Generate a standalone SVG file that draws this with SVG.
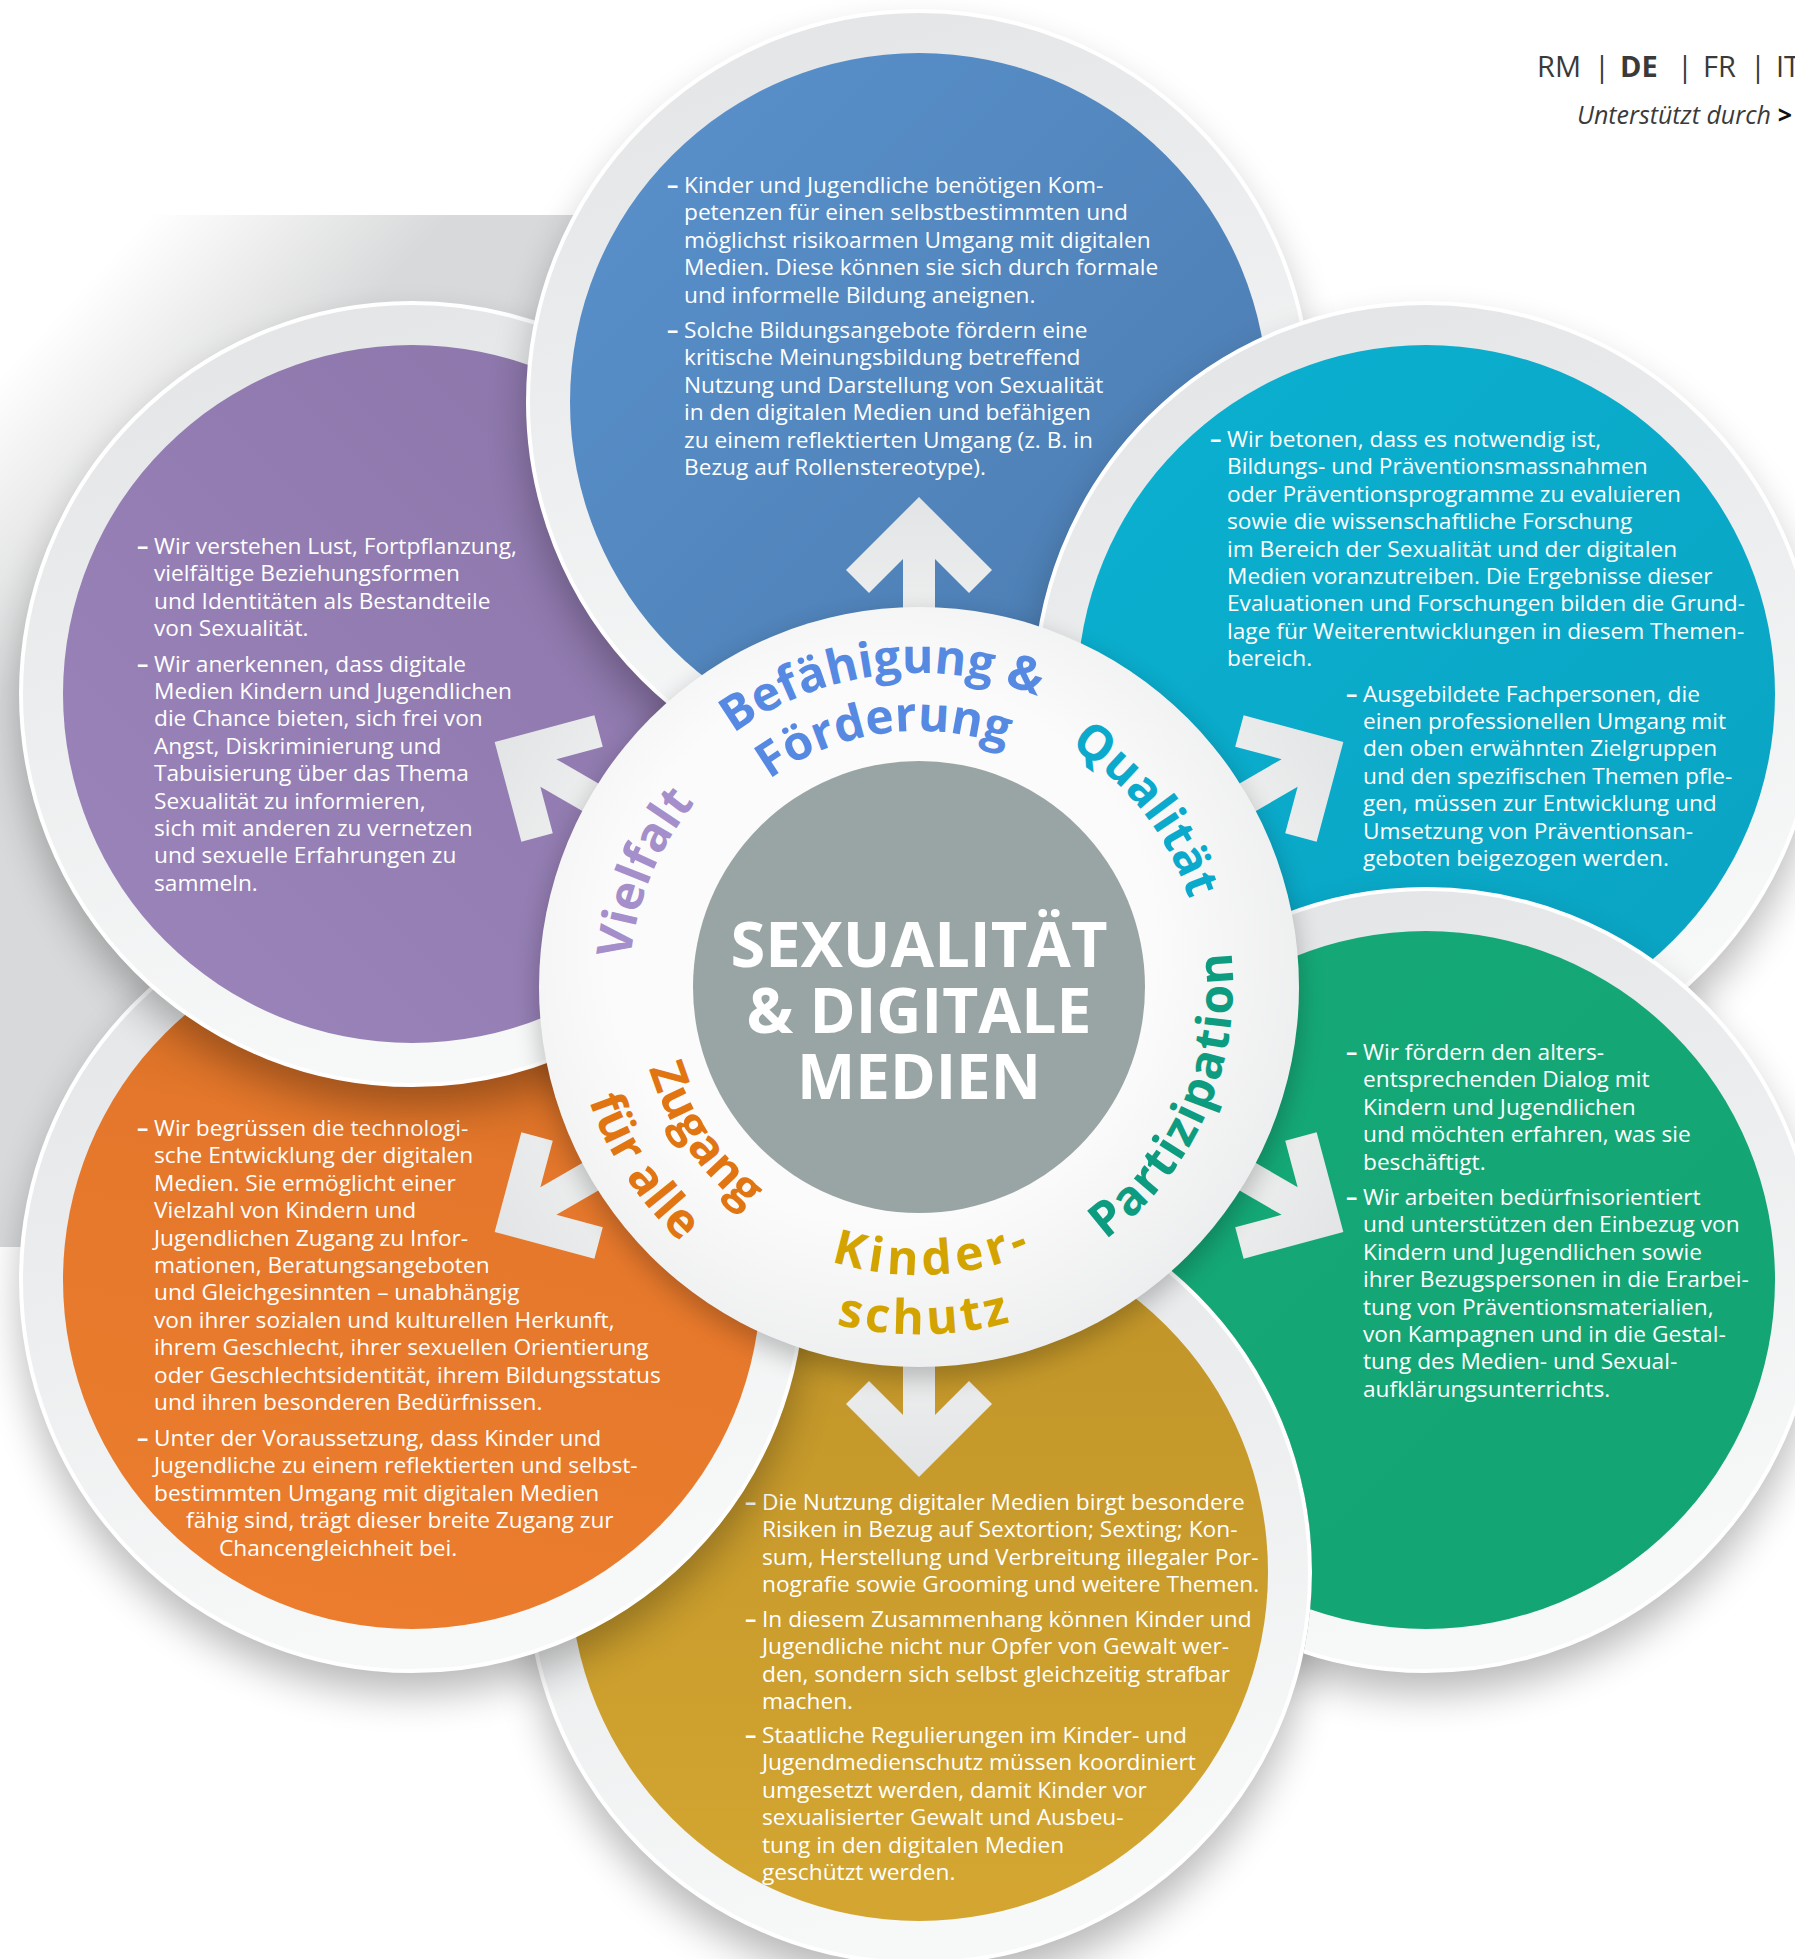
<svg xmlns="http://www.w3.org/2000/svg" width="1795" height="1959" viewBox="0 0 1795 1959">
<defs>
<style>
.body{font-family:"Open Sans","Liberation Sans",sans-serif;font-size:22.7px;fill:#ffffff;}
.dash{font-family:"Open Sans","Liberation Sans",sans-serif;font-size:22.7px;font-weight:700;fill:#ffffff;}
.lbl{font-family:"Open Sans","Liberation Sans",sans-serif;font-size:48px;font-weight:700;}
.title{font-family:"Open Sans","Liberation Sans",sans-serif;font-size:62px;font-weight:700;fill:#ffffff;}
.hdr{font-family:"Open Sans","Liberation Sans",sans-serif;fill:#3a3a3a;}
.band{fill:url(#gBand);stroke:#ffffff;stroke-width:4;}
.shadow{fill:#000;opacity:0.28;filter:url(#fBlur);}
.arrow{fill:url(#gArrow);}
</style>
<filter id="fBlur" x="-30%" y="-30%" width="160%" height="160%"><feGaussianBlur stdDeviation="20"/></filter>
<filter id="fBlurS" x="-30%" y="-30%" width="160%" height="160%"><feGaussianBlur stdDeviation="12"/></filter>
<clipPath id="cNoGold"><path clip-rule="evenodd" d="M0 0H1795V1959H0Z M 526 1572 A 393 393 0 1 0 1312 1572 A 393 393 0 1 0 526 1572 Z"/></clipPath>
<linearGradient id="gBg" gradientUnits="userSpaceOnUse" x1="80" y1="290" x2="240" y2="440"><stop offset="0" stop-color="#ffffff"/><stop offset="1" stop-color="#d8d9da"/></linearGradient>
<linearGradient id="gBand" x1="0" y1="0" x2="0.3" y2="1"><stop offset="0" stop-color="#e2e3e5"/><stop offset="1" stop-color="#f7f8f8"/></linearGradient>
<linearGradient id="gArrow" x1="0" y1="0" x2="0" y2="1"><stop offset="0" stop-color="#e3e4e5"/><stop offset="1" stop-color="#f1f2f2"/></linearGradient>
<radialGradient id="gRing" cx="0.45" cy="0.45" r="0.6"><stop offset="0.6" stop-color="#fbfbfb"/><stop offset="1" stop-color="#ebeced"/></radialGradient>
<linearGradient id="gPurple" x1="1" y1="0" x2="0" y2="1"><stop offset="0" stop-color="#8a74a8"/><stop offset="1" stop-color="#9c85bb"/></linearGradient>
<linearGradient id="gBlue" x1="0" y1="0" x2="1" y2="1"><stop offset="0" stop-color="#5a92cd"/><stop offset="1" stop-color="#4a7aae"/></linearGradient>
<linearGradient id="gCyan" x1="0" y1="0" x2="1" y2="1"><stop offset="0" stop-color="#0bb0d0"/><stop offset="1" stop-color="#0aa3c2"/></linearGradient>
<linearGradient id="gGreen" x1="0" y1="0" x2="1" y2="1"><stop offset="0" stop-color="#16a978"/><stop offset="1" stop-color="#12a472"/></linearGradient>
<linearGradient id="gGold" x1="0" y1="0" x2="0" y2="1"><stop offset="0" stop-color="#bf9328"/><stop offset="1" stop-color="#d4a631"/></linearGradient>
<linearGradient id="gOrange" x1="0.5" y1="0" x2="0.3" y2="1"><stop offset="0" stop-color="#c2641f"/><stop offset="0.3" stop-color="#e4772b"/><stop offset="1" stop-color="#ec7d2e"/></linearGradient>
<path id="pBef" d="M 605.43 970.57 A 314 314 0 0 1 1219.28 895.20"/>
<path id="pFoe" d="M 663.16 978.07 A 256 256 0 0 1 1162.47 907.89"/>
<path id="pQua" d="M 785.67 736.24 A 284 284 0 0 1 1130.05 1177.03"/>
<path id="pVie" d="M 763.18 1231.58 A 290 290 0 0 1 981.77 703.87"/>
<path id="pPar" d="M 845.70 1292.32 A 314 314 0 0 0 1092.31 725.16"/>
<path id="pKin" d="M 638.38 1051.79 A 288 288 0 0 0 1204.85 1022.10"/>
<path id="pSch" d="M 579.10 1054.13 A 346 346 0 0 0 1260.75 1041.13"/>
<path id="pZug" d="M 721.34 785.86 A 282 282 0 0 0 1035.94 1243.61"/>
<path id="pFue" d="M 680.98 731.76 A 349 349 0 0 0 1055.37 1308.26"/>
</defs>

<rect width="1795" height="1959" fill="#ffffff"/>
<rect id="bg-panel" x="0" y="215" width="900" height="1032" fill="url(#gBg)"/>

<g id="node-kinderschutz">
<circle class="shadow" cx="919" cy="1596" r="391"/>
<circle class="band" cx="919" cy="1572" r="391"/>
<circle cx="919" cy="1572" r="349" fill="url(#gGold)"/>
<text class="dash" x="745" y="1510">–</text>
<text class="body" x="762" y="1510">Die Nutzung digitaler Medien birgt besondere</text>
<text class="body" x="762" y="1537.4">Risiken in Bezug auf Sextortion; Sexting; Kon-</text>
<text class="body" x="762" y="1564.8">sum, Herstellung und Verbreitung illegaler Por-</text>
<text class="body" x="762" y="1592.2">nografie sowie Grooming und weitere Themen.</text>
<text class="dash" x="745" y="1627">–</text>
<text class="body" x="762" y="1627">In diesem Zusammenhang können Kinder und</text>
<text class="body" x="762" y="1654.4">Jugendliche nicht nur Opfer von Gewalt wer-</text>
<text class="body" x="762" y="1681.8">den, sondern sich selbst gleichzeitig strafbar</text>
<text class="body" x="762" y="1709.2">machen.</text>
<text class="dash" x="745" y="1743">–</text>
<text class="body" x="762" y="1743">Staatliche Regulierungen im Kinder- und</text>
<text class="body" x="762" y="1770.4">Jugendmedienschutz müssen koordiniert</text>
<text class="body" x="762" y="1797.8">umgesetzt werden, damit Kinder vor</text>
<text class="body" x="762" y="1825.2">sexualisierter Gewalt und Ausbeu-</text>
<text class="body" x="762" y="1852.6">tung in den digitalen Medien</text>
<text class="body" x="762" y="1880">geschützt werden.</text>
</g>

<g id="node-zugang">
<circle class="shadow" cx="412" cy="1302" r="391"/>
<circle class="band" cx="412" cy="1280" r="391"/>
<circle cx="412" cy="1280" r="349" fill="url(#gOrange)"/>
<text class="dash" x="137" y="1136">–</text>
<text class="body" x="154" y="1136">Wir begrüssen die technologi-</text>
<text class="body" x="154" y="1163.4">sche Entwicklung der digitalen</text>
<text class="body" x="154" y="1190.8">Medien. Sie ermöglicht einer</text>
<text class="body" x="154" y="1218.2">Vielzahl von Kindern und</text>
<text class="body" x="154" y="1245.6">Jugendlichen Zugang zu Infor-</text>
<text class="body" x="154" y="1273">mationen, Beratungsangeboten</text>
<text class="body" x="154" y="1300.4">und Gleichgesinnten – unabhängig</text>
<text class="body" x="154" y="1327.8">von ihrer sozialen und kulturellen Herkunft,</text>
<text class="body" x="154" y="1355.2">ihrem Geschlecht, ihrer sexuellen Orientierung</text>
<text class="body" x="154" y="1382.6">oder Geschlechtsidentität, ihrem Bildungsstatus</text>
<text class="body" x="154" y="1410">und ihren besonderen Bedürfnissen.</text>
<text class="dash" x="137" y="1446">–</text>
<text class="body" x="154" y="1446">Unter der Voraussetzung, dass Kinder und</text>
<text class="body" x="154" y="1473.4">Jugendliche zu einem reflektierten und selbst-</text>
<text class="body" x="154" y="1500.8">bestimmten Umgang mit digitalen Medien</text>
<text class="body" x="186" y="1528.2">fähig sind, trägt dieser breite Zugang zur</text>
<text class="body" x="219" y="1555.6">Chancengleichheit bei.</text>
</g>

<g id="node-vielfalt">
<circle class="shadow" cx="412" cy="716" r="391"/>
<circle class="band" cx="412" cy="694" r="391"/>
<circle cx="412" cy="694" r="349" fill="url(#gPurple)"/>
<text class="dash" x="137" y="554">–</text>
<text class="body" x="154" y="554">Wir verstehen Lust, Fortpflanzung,</text>
<text class="body" x="154" y="581.4">vielfältige Beziehungsformen</text>
<text class="body" x="154" y="608.8">und Identitäten als Bestandteile</text>
<text class="body" x="154" y="636.2">von Sexualität.</text>
<text class="dash" x="137" y="671.5">–</text>
<text class="body" x="154" y="671.5">Wir anerkennen, dass digitale</text>
<text class="body" x="154" y="698.9">Medien Kindern und Jugendlichen</text>
<text class="body" x="154" y="726.3">die Chance bieten, sich frei von</text>
<text class="body" x="154" y="753.7">Angst, Diskriminierung und</text>
<text class="body" x="154" y="781.1">Tabuisierung über das Thema</text>
<text class="body" x="154" y="808.5">Sexualität zu informieren,</text>
<text class="body" x="154" y="835.9">sich mit anderen zu vernetzen</text>
<text class="body" x="154" y="863.3">und sexuelle Erfahrungen zu</text>
<text class="body" x="154" y="890.7">sammeln.</text>
</g>

<g id="node-befaehigung">
<circle class="shadow" cx="919" cy="424" r="391"/>
<circle class="band" cx="919" cy="402" r="391"/>
<circle cx="919" cy="402" r="349" fill="url(#gBlue)"/>
<text class="dash" x="667" y="193">–</text>
<text class="body" x="684" y="193">Kinder und Jugendliche benötigen Kom-</text>
<text class="body" x="684" y="220.4">petenzen für einen selbstbestimmten und</text>
<text class="body" x="684" y="247.8">möglichst risikoarmen Umgang mit digitalen</text>
<text class="body" x="684" y="275.2">Medien. Diese können sie sich durch formale</text>
<text class="body" x="684" y="302.6">und informelle Bildung aneignen.</text>
<text class="dash" x="667" y="338">–</text>
<text class="body" x="684" y="338">Solche Bildungsangebote fördern eine</text>
<text class="body" x="684" y="365.4">kritische Meinungsbildung betreffend</text>
<text class="body" x="684" y="392.8">Nutzung und Darstellung von Sexualität</text>
<text class="body" x="684" y="420.2">in den digitalen Medien und befähigen</text>
<text class="body" x="684" y="447.6">zu einem reflektierten Umgang (z. B. in</text>
<text class="body" x="684" y="475">Bezug auf Rollenstereotype).</text>
</g>

<g id="node-qualitaet">
<circle class="shadow" cx="1426" cy="716" r="391"/>
<circle class="band" cx="1426" cy="694" r="391"/>
<circle cx="1426" cy="694" r="349" fill="url(#gCyan)"/>
<text class="dash" x="1210" y="447">–</text>
<text class="body" x="1227" y="447">Wir betonen, dass es notwendig ist,</text>
<text class="body" x="1227" y="474.4">Bildungs- und Präventionsmassnahmen</text>
<text class="body" x="1227" y="501.8">oder Präventionsprogramme zu evaluieren</text>
<text class="body" x="1227" y="529.2">sowie die wissenschaftliche Forschung</text>
<text class="body" x="1227" y="556.6">im Bereich der Sexualität und der digitalen</text>
<text class="body" x="1227" y="584">Medien voranzutreiben. Die Ergebnisse dieser</text>
<text class="body" x="1227" y="611.4">Evaluationen und Forschungen bilden die Grund-</text>
<text class="body" x="1227" y="638.8">lage für Weiterentwicklungen in diesem Themen-</text>
<text class="body" x="1227" y="666.2">bereich.</text>
<text class="dash" x="1346" y="701.5">–</text>
<text class="body" x="1363" y="701.5">Ausgebildete Fachpersonen, die</text>
<text class="body" x="1363" y="728.9">einen professionellen Umgang mit</text>
<text class="body" x="1363" y="756.3">den oben erwähnten Zielgruppen</text>
<text class="body" x="1363" y="783.7">und den spezifischen Themen pfle-</text>
<text class="body" x="1363" y="811.1">gen, müssen zur Entwicklung und</text>
<text class="body" x="1363" y="838.5">Umsetzung von Präventionsan-</text>
<text class="body" x="1363" y="865.9">geboten beigezogen werden.</text>
</g>

<g id="node-partizipation" clip-path="url(#cNoGold)">
<circle class="shadow" cx="1426" cy="1302" r="391"/>
<circle class="band" cx="1426" cy="1280" r="391"/>
<circle cx="1426" cy="1280" r="349" fill="url(#gGreen)"/>
<text class="dash" x="1346" y="1060">–</text>
<text class="body" x="1363" y="1060">Wir fördern den alters-</text>
<text class="body" x="1363" y="1087.4">entsprechenden Dialog mit</text>
<text class="body" x="1363" y="1114.8">Kindern und Jugendlichen</text>
<text class="body" x="1363" y="1142.2">und möchten erfahren, was sie</text>
<text class="body" x="1363" y="1169.6">beschäftigt.</text>
<text class="dash" x="1346" y="1205">–</text>
<text class="body" x="1363" y="1205">Wir arbeiten bedürfnisorientiert</text>
<text class="body" x="1363" y="1232.4">und unterstützen den Einbezug von</text>
<text class="body" x="1363" y="1259.8">Kindern und Jugendlichen sowie</text>
<text class="body" x="1363" y="1287.2">ihrer Bezugspersonen in die Erarbei-</text>
<text class="body" x="1363" y="1314.6">tung von Präventionsmaterialien,</text>
<text class="body" x="1363" y="1342">von Kampagnen und in die Gestal-</text>
<text class="body" x="1363" y="1369.4">tung des Medien- und Sexual-</text>
<text class="body" x="1363" y="1396.8">aufklärungsunterrichts.</text>
</g>

<g id="connectors">
<polygon class="arrow" points="919,497 992,570 969,593 935,559 935,660 903,660 903,559 869,593 846,570"/>
<polygon class="arrow" transform="rotate(60 919 987)" points="919,497 992,570 969,593 935,559 935,660 903,660 903,559 869,593 846,570"/>
<polygon class="arrow" transform="rotate(120 919 987)" points="919,497 992,570 969,593 935,559 935,660 903,660 903,559 869,593 846,570"/>
<polygon class="arrow" transform="rotate(180 919 987)" points="919,497 992,570 969,593 935,559 935,660 903,660 903,559 869,593 846,570"/>
<polygon class="arrow" transform="rotate(240 919 987)" points="919,497 992,570 969,593 935,559 935,660 903,660 903,559 869,593 846,570"/>
<polygon class="arrow" transform="rotate(300 919 987)" points="919,497 992,570 969,593 935,559 935,660 903,660 903,559 869,593 846,570"/>
</g>

<g id="node-center">
<circle cx="919" cy="997" r="382" fill="#000" opacity="0.22" filter="url(#fBlurS)"/>
<circle cx="919" cy="987" r="380" fill="url(#gRing)"/>
<circle cx="919" cy="987" r="226" fill="#99a5a4"/>
<text class="title" x="919" y="967" text-anchor="middle" textLength="377" lengthAdjust="spacingAndGlyphs">SEXUALITÄT</text>
<text class="title" x="919" y="1033" text-anchor="middle" textLength="345" lengthAdjust="spacingAndGlyphs">&amp; DIGITALE</text>
<text class="title" x="919" y="1099" text-anchor="middle" textLength="244" lengthAdjust="spacingAndGlyphs">MEDIEN</text>
</g>

<g id="ring-labels">
<text class="lbl" fill="#5689e2"><textPath href="#pBef" startOffset="50%" text-anchor="middle">Befähigung &amp;</textPath></text>
<text class="lbl" fill="#5689e2"><textPath href="#pFoe" startOffset="50%" text-anchor="middle">Förderung</textPath></text>
<text class="lbl" fill="#0ba9cb"><textPath href="#pQua" startOffset="50%" text-anchor="middle">Qualität</textPath></text>
<text class="lbl" fill="#0e9c80" letter-spacing="1.5"><textPath href="#pPar" startOffset="50%" text-anchor="middle">Partizipation</textPath></text>
<text class="lbl" fill="#d3a300" letter-spacing="5"><textPath href="#pKin" startOffset="50%" text-anchor="middle">Kinder-</textPath></text>
<text class="lbl" fill="#d3a300" letter-spacing="4"><textPath href="#pSch" startOffset="50%" text-anchor="middle">schutz</textPath></text>
<text class="lbl" fill="#e07512"><textPath href="#pZug" startOffset="50%" text-anchor="middle">Zugang</textPath></text>
<text class="lbl" fill="#e07512"><textPath href="#pFue" startOffset="50%" text-anchor="middle">für alle</textPath></text>
<text class="lbl" fill="#a48fcb"><textPath href="#pVie" startOffset="50%" text-anchor="middle">Vielfalt</textPath></text>
</g>

<g id="header">
<text class="hdr" x="1537" y="77" font-size="29">RM</text>
<text class="hdr" x="1594" y="77" font-size="29">|</text>
<text class="hdr" x="1620" y="77" font-size="29" font-weight="700" fill="#222">DE</text>
<text class="hdr" x="1677" y="77" font-size="29">|</text>
<text class="hdr" x="1703" y="77" font-size="29">FR</text>
<text class="hdr" x="1750" y="77" font-size="29">|</text>
<text class="hdr" x="1776" y="77" font-size="29">IT</text>
<text class="hdr" x="1577" y="124" font-size="25" font-style="italic">Unterstützt durch <tspan font-weight="700" fill="#111">&gt;</tspan></text>
</g>
</svg>
